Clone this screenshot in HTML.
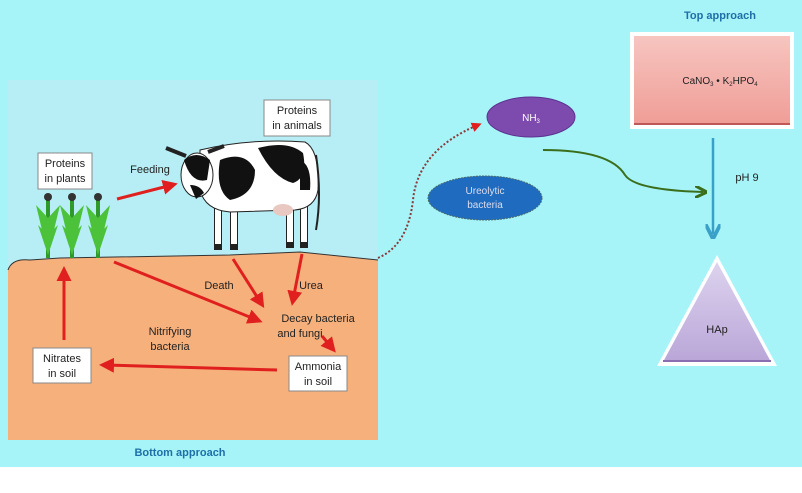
<!DOCTYPE html>
<html><head><style>
body{margin:0;width:802px;height:488px;overflow:hidden;background:#fff;font-family:"Liberation Sans",sans-serif}
</style></head><body>
<svg width="802" height="488" viewBox="0 0 802 488" xmlns="http://www.w3.org/2000/svg" font-family="Liberation Sans, sans-serif">
<defs>
<marker id="ar" markerWidth="5" markerHeight="5" refX="3" refY="2.5" orient="auto"><path d="M0,0 L5,2.5 L0,5z" fill="#e0201e"/></marker>
<marker id="ag" markerWidth="6" markerHeight="6" refX="4" refY="3" orient="auto"><path d="M0,0 L6,3 L0,6" fill="none" stroke="#3b6e1c" stroke-width="1.5"/></marker>
<marker id="ab" markerWidth="6" markerHeight="6" refX="4" refY="3" orient="auto"><path d="M0,0 L6,3 L0,6" fill="none" stroke="#3aa0c8" stroke-width="1.5"/></marker>
<linearGradient id="pk" x1="0" y1="0" x2="0" y2="1"><stop offset="0" stop-color="#f7c5c0"/><stop offset="1" stop-color="#ef9d96"/></linearGradient>
<linearGradient id="pu" x1="0" y1="0" x2="0" y2="1"><stop offset="0" stop-color="#ddd3ee"/><stop offset="1" stop-color="#b9a6d8"/></linearGradient>
</defs>
<rect width="802" height="467" fill="#a6f4f8"/>
<rect x="8" y="80" width="370" height="360" fill="#b7eef5"/>
<path d="M8,270 Q12,258 30,260 L60,258 L230,255 L300,252 L378,260 L378,440 L8,440z" fill="#f6b07c"/>
<path d="M8,270 Q12,258 30,260 L60,258 L230,255 L300,252 L378,260" fill="none" stroke="#333" stroke-width="1"/>
<!-- plants -->
<g stroke="#2f9a2a" stroke-width="4" fill="none">
<path d="M48,258 V200 M72,258 V200 M98,258 V200"/>
</g>
<g fill="#4cc23a">
<path d="M36,205 L48,218 L60,205 L48,255z M38,225 L48,235 L58,225 L48,255z"/>
<path d="M60,205 L72,218 L84,205 L72,255z M62,225 L72,235 L82,225 L72,255z"/>
<path d="M86,205 L98,218 L110,205 L98,255z M88,225 L98,235 L108,225 L98,255z"/>
</g>
<circle cx="48" cy="197" r="4" fill="#333"/><circle cx="72" cy="197" r="4" fill="#333"/><circle cx="98" cy="197" r="4" fill="#333"/>
<!-- cow -->
<g>
<g stroke="#222" stroke-width="8"><line x1="218" y1="200" x2="218" y2="250"/><line x1="234" y1="200" x2="234" y2="250"/><line x1="290" y1="200" x2="290" y2="248"/><line x1="304" y1="200" x2="304" y2="248"/></g>
<g stroke="#fff" stroke-width="6"><line x1="218" y1="200" x2="218" y2="244"/><line x1="234" y1="200" x2="234" y2="244"/><line x1="290" y1="200" x2="290" y2="242"/><line x1="304" y1="200" x2="304" y2="242"/></g>
<path d="M200,150 Q250,138 305,142 Q320,150 318,190 Q315,208 295,210 L230,212 Q205,210 200,190z" fill="#fff" stroke="#222"/>
<path d="M220,160 q25,-10 35,10 q0,25 -25,30 q-15,-10 -10,-40z M258,148 q30,-8 45,5 q5,25 -10,30 q-20,-5 -35,-35z M300,160 q12,5 10,30 l-10,0z" fill="#111"/>
<ellipse cx="197" cy="175" rx="16" ry="22" fill="#fff" stroke="#222"/>
<path d="M184,160 q12,-10 26,0 l-3,20 q-16,4 -23,-20z M190,185 q10,0 14,8 l-8,6z" fill="#111"/>
<path d="M166,148 l20,8 M208,152 l16,-6" stroke="#222" stroke-width="4"/>
<ellipse cx="283" cy="210" rx="10" ry="6" fill="#e8c8c0"/>
<path d="M316,155 q6,40 0,75" stroke="#222" stroke-width="2" fill="none"/>
</g>
<!-- boxes -->
<g fill="#fff" stroke="#888">
<rect x="38" y="153" width="54" height="36"/><rect x="264" y="100" width="66" height="36"/>
<rect x="33" y="348" width="58" height="35"/><rect x="289" y="356" width="58" height="35"/>
</g>
<g font-size="11" fill="#222" text-anchor="middle">
<text x="65" y="167">Proteins</text><text x="65" y="182">in plants</text>
<text x="297" y="114">Proteins</text><text x="297" y="129">in animals</text>
<text x="62" y="362">Nitrates</text><text x="62" y="377">in soil</text>
<text x="318" y="370">Ammonia</text><text x="318" y="385">in soil</text>
<text x="150" y="173">Feeding</text>
<text x="219" y="289">Death</text><text x="311" y="289">Urea</text>
<text x="318" y="322">Decay bacteria</text><text x="300" y="337">and fungi</text>
<text x="170" y="335">Nitrifying</text><text x="170" y="350">bacteria</text>
</g>
<!-- red arrows -->
<g stroke="#e0201e" stroke-width="3" fill="none" marker-end="url(#ar)">
<line x1="117" y1="199" x2="172" y2="185"/>
<line x1="233" y1="259" x2="261" y2="303"/>
<line x1="302" y1="254" x2="293" y2="300"/>
<line x1="114" y1="262" x2="257" y2="320"/>
<line x1="322" y1="336" x2="332" y2="348"/>
<line x1="277" y1="370" x2="105" y2="365"/>
<line x1="64" y1="340" x2="64" y2="272"/>
</g>
<text x="180" y="456" font-size="11" font-weight="bold" fill="#1e6fa8" text-anchor="middle">Bottom approach</text>
<!-- right -->
<path d="M378,258 Q408,245 413,200 Q418,150 478,125" fill="none" stroke="#8a3a3a" stroke-width="2" stroke-dasharray="2,2" marker-end="url(#ar)"/>
<ellipse cx="531" cy="117" rx="44" ry="20" fill="#7d4aae" stroke="#5b3390"/>
<text x="531" y="121" font-size="10" fill="#fff" text-anchor="middle">NH<tspan font-size="6" dy="2">3</tspan></text>
<ellipse cx="485" cy="198" rx="57" ry="22" fill="#1e6bc0" stroke="#4a6a6a" stroke-dasharray="2,1"/>
<text x="485" y="194" font-size="10" fill="#dde" text-anchor="middle">Ureolytic</text>
<text x="485" y="208" font-size="10" fill="#dde" text-anchor="middle">bacteria</text>
<path d="M543,150 Q610,150 625,175 Q635,190 703,192" fill="none" stroke="#3b6e1c" stroke-width="2" marker-end="url(#ag)"/>
<text x="720" y="19" font-size="11" font-weight="bold" fill="#1e6fa8" text-anchor="middle">Top approach</text>
<rect x="630" y="32" width="164" height="97" fill="#fff"/>
<rect x="634" y="36" width="156" height="89" fill="url(#pk)"/>
<line x1="634" y1="124" x2="790" y2="124" stroke="#c05858" stroke-width="2"/>
<text x="720" y="84" font-size="10" fill="#222" text-anchor="middle">CaNO<tspan font-size="6" dy="2">3</tspan><tspan dy="-2"> • K</tspan><tspan font-size="6" dy="2">2</tspan><tspan dy="-2">HPO</tspan><tspan font-size="6" dy="2">4</tspan></text>
<line x1="713" y1="138" x2="713" y2="234" stroke="#3aa0c8" stroke-width="2.5" marker-end="url(#ab)"/>
<text x="747" y="181" font-size="11" fill="#222" text-anchor="middle">pH 9</text>
<path d="M717,255 L777,366 L657,366z" fill="#fff"/>
<path d="M717,262 L771,362 L663,362z" fill="url(#pu)"/>
<line x1="663" y1="361" x2="771" y2="361" stroke="#8b6eb0" stroke-width="2"/>
<text x="717" y="333" font-size="11" fill="#222" text-anchor="middle">HAp</text>
</svg>
</body></html>
